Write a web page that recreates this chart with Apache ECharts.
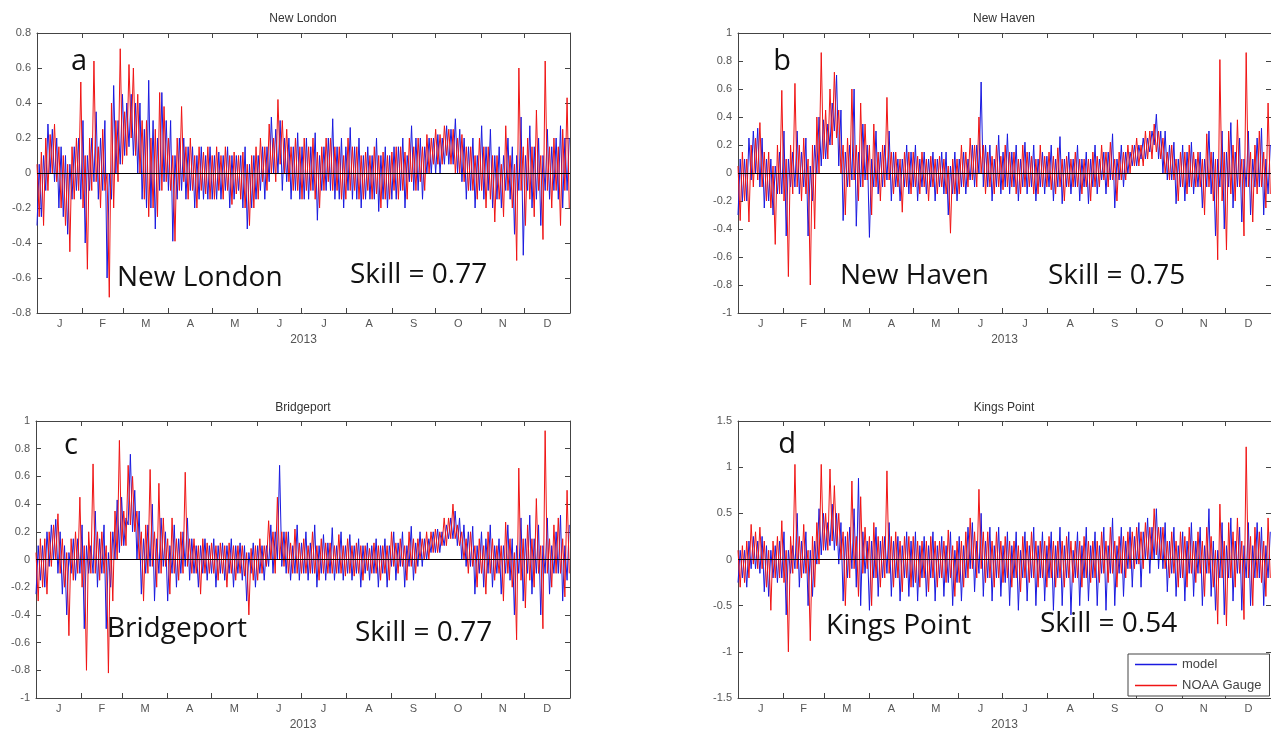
<!DOCTYPE html>
<html>
<head>
<meta charset="utf-8">
<title>Model vs NOAA gauge 2013</title>
<script src="https://cdn.jsdelivr.net/npm/echarts@6/dist/echarts.min.js"></script>
<style>
html, body { margin: 0; padding: 0; background: #fff; }
#main { width: 1271px; height: 732px; }
</style>
</head>
<body>
<div id="main"></div>
<script>
// one reading every 1.5 days from Jan 1 2013 (day 0), one line per month
var STEP = 1.5;
var monthLetters = ['J', 'F', 'M', 'A', 'M', 'J', 'J', 'A', 'S', 'O', 'N', 'D'];
var monthStarts = [31, 59, 90, 120, 151, 181, 212, 243, 273, 304, 334];
var monthMids = [15.5, 45, 74.5, 105, 135.5, 166, 196.5, 227.5, 258, 288.5, 319, 349.5];

var stations = ['New London', 'New Haven', 'Bridgeport', 'Kings Point'];
var panelLetters = ['a', 'b', 'c', 'd'];
var skills = ['Skill = 0.77', 'Skill = 0.75', 'Skill = 0.77', 'Skill = 0.54'];
var yMin = [-0.8, -1, -1, -1.5];
var yMax = [0.8, 1, 1, 1.5];
var yStep = [0.2, 0.2, 0.2, 0.5];

// New London
var newLondonModel = [
  -0.3,0.05, -0.25,0.1, -0.1,0.28, 0.0,0.25, -0.05,0.2, -0.2,0.15, -0.25,0.1, -0.35,0.05, -0.15,0.15, -0.1,0.2, -0.15,0.3,
  -0.4,0.1, -0.1,0.2, -0.05,0.35, -0.15,0.2, -0.1,0.3, -0.6,0.0, -0.15,0.5, 0.0,0.3, 0.05,0.45,
  0.1,0.4, 0.15,0.45, 0.1,0.4, 0.0,0.4, -0.15,0.25, -0.2,0.53, -0.2,0.3, -0.32,0.2, -0.1,0.46, -0.05,0.3,
  -0.1,0.3, -0.39,0.1, -0.15,0.2, -0.1,0.2, -0.15,0.15, -0.1,0.15, -0.2,0.1, -0.15,0.15, -0.15,0.1, -0.15,0.15,
  -0.15,0.1, -0.15,0.12, -0.15,0.1, -0.1,0.15, -0.2,0.1, -0.15,0.1, -0.1,0.1, -0.2,0.15, -0.32,0.05, -0.2,0.1, -0.15,0.1,
  -0.1,0.15, -0.15,0.15, -0.05,0.32, 0.0,0.25, 0.0,0.3, -0.1,0.2, -0.05,0.2, -0.15,0.15, -0.1,0.23, -0.15,0.15,
  -0.15,0.2, -0.15,0.15, -0.1,0.23, -0.27,0.1, -0.1,0.15, -0.1,0.2, -0.1,0.31, -0.15,0.15, -0.15,0.2, -0.2,0.15,
  -0.1,0.26, -0.15,0.15, -0.15,0.2, -0.2,0.1, -0.15,0.15, -0.15,0.1, -0.15,0.2, -0.22,0.1, -0.15,0.15, -0.2,0.1,
  -0.15,0.15, -0.15,0.15, -0.1,0.2, -0.2,0.1, -0.05,0.27, -0.1,0.2, -0.1,0.2, -0.15,0.15, 0.0,0.2, 0.0,0.2,
  0.0,0.22, 0.0,0.2, 0.05,0.27, 0.05,0.25, 0.05,0.31, 0.0,0.25, -0.05,0.2, -0.15,0.15, -0.1,0.2, -0.2,0.1, -0.1,0.27,
  -0.15,0.15, -0.1,0.25, -0.2,0.1, -0.15,0.15, -0.2,0.1, -0.1,0.2, -0.15,0.15, -0.35,0.1, -0.1,0.32, -0.47,0.1,
  -0.1,0.27, -0.2,0.15, -0.15,0.2, -0.3,0.1, -0.1,0.25, -0.15,0.15, -0.1,0.2, -0.15,0.27, -0.2,0.2, -0.1,0.2
];
var newLondonGauge = [
  0.05,-0.25, 0.12,-0.3, 0.2,-0.1, 0.22,0.0, 0.28,-0.05, 0.15,-0.2, 0.1,-0.3, 0.05,-0.45, 0.15,-0.15, 0.2,-0.1, 0.52,-0.2,
  0.1,-0.55, 0.2,-0.1, 0.64,-0.05, 0.15,-0.2, 0.25,-0.1, 0.0,-0.71, 0.4,-0.2, 0.3,-0.05, 0.71,0.05,
  0.35,0.1, 0.62,0.2, 0.6,0.1, 0.45,0.0, 0.3,-0.15, 0.3,-0.25, 0.2,-0.2, 0.25,-0.25, 0.46,-0.1, 0.38,-0.05,
  0.2,-0.1, 0.1,-0.39, 0.2,-0.1, 0.38,-0.05, 0.15,-0.15, 0.2,-0.1, 0.1,-0.2, 0.15,-0.1, 0.12,-0.12, 0.15,-0.15,
  0.1,-0.15, 0.15,-0.1, 0.1,-0.15, 0.15,-0.1, 0.1,-0.18, 0.12,-0.12, 0.1,-0.15, 0.12,-0.2, 0.05,-0.3, 0.1,-0.2, 0.15,-0.15,
  0.2,-0.05, 0.15,-0.1, 0.28,0.0, 0.2,-0.05, 0.42,0.05, 0.3,0.0, 0.25,-0.05, 0.15,-0.1, 0.2,-0.1, 0.15,-0.15,
  0.2,-0.1, 0.15,-0.1, 0.2,-0.15, 0.12,-0.2, 0.15,-0.1, 0.2,-0.05, 0.2,-0.1, 0.15,-0.1, 0.15,-0.15, 0.1,-0.15,
  0.2,-0.1, 0.15,-0.1, 0.15,-0.15, 0.1,-0.15, 0.12,-0.1, 0.1,-0.15, 0.15,-0.12, 0.1,-0.2, 0.12,-0.15, 0.1,-0.15,
  0.12,-0.1, 0.15,-0.15, 0.15,-0.1, 0.12,-0.15, 0.2,-0.05, 0.15,-0.1, 0.2,-0.05, 0.15,-0.1, 0.22,0.0, 0.2,0.05,
  0.25,0.05, 0.22,0.05, 0.27,0.1, 0.25,0.05, 0.25,0.0, 0.2,0.0, 0.22,-0.05, 0.15,-0.1, 0.15,-0.1, 0.1,-0.15, 0.2,-0.1,
  0.15,-0.2, 0.15,-0.15, 0.1,-0.28, 0.1,-0.15, 0.05,-0.25, 0.27,-0.1, 0.1,-0.2, 0.05,-0.5, 0.6,-0.1, 0.15,-0.3,
  0.2,-0.15, 0.15,-0.25, 0.36,-0.1, 0.1,-0.38, 0.64,-0.1, 0.15,-0.2, 0.2,-0.1, 0.15,-0.3, 0.25,-0.1, 0.43,-0.2
];

// New Haven
var newHavenModel = [
  -0.3,0.1, -0.2,0.1, -0.2,0.25, -0.05,0.3, 0.0,0.32, -0.1,0.25, -0.25,0.1, -0.2,0.1, -0.3,0.05, -0.15,0.15, -0.15,0.3,
  -0.45,0.1, -0.1,0.15, -0.1,0.3, -0.15,0.15, -0.1,0.25, -0.45,0.05, -0.2,0.2, 0.0,0.4, 0.05,0.38,
  0.1,0.35, 0.2,0.5, 0.3,0.7, 0.05,0.45, -0.34,0.15, -0.1,0.2, -0.05,0.6, -0.38,0.15, -0.1,0.35, -0.05,0.2,
  -0.46,0.1, -0.1,0.3, -0.15,0.15, -0.1,0.2, -0.05,0.3, -0.2,0.15, -0.1,0.1, -0.2,0.1, -0.1,0.2, -0.15,0.15,
  -0.1,0.2, -0.2,0.1, -0.1,0.15, -0.15,0.1, -0.1,0.15, -0.2,0.1, -0.1,0.15, -0.15,0.15, -0.3,0.05, -0.15,0.15, -0.2,0.1,
  -0.1,0.15, -0.15,0.1, -0.05,0.2, -0.1,0.2, 0.0,0.65, -0.1,0.2, -0.1,0.2, -0.2,0.1, -0.1,0.27, -0.15,0.15,
  -0.1,0.28, -0.15,0.15, -0.1,0.2, -0.2,0.1, -0.1,0.22, -0.15,0.15, -0.1,0.2, -0.2,0.1, -0.1,0.15, -0.15,0.12,
  -0.1,0.2, -0.2,0.1, -0.1,0.26, -0.22,0.1, -0.1,0.15, -0.15,0.1, -0.1,0.2, -0.2,0.1, -0.1,0.15, -0.22,0.1,
  -0.1,0.2, -0.15,0.1, -0.05,0.15, -0.15,0.15, -0.05,0.28, -0.25,0.1, -0.05,0.2, -0.1,0.15, 0.0,0.15, 0.05,0.2,
  0.05,0.2, 0.1,0.25, 0.1,0.25, 0.15,0.3, 0.2,0.42, 0.1,0.3, 0.0,0.3, -0.05,0.2, -0.05,0.22, -0.22,0.1, -0.1,0.2,
  -0.2,0.15, -0.1,0.22, -0.15,0.1, -0.1,0.15, -0.25,0.1, -0.1,0.3, -0.15,0.15, -0.45,0.1, -0.1,0.3, -0.4,0.15,
  -0.1,0.36, -0.25,0.15, -0.1,0.25, -0.35,0.1, -0.1,0.3, -0.3,0.1, -0.1,0.25, -0.1,0.32, -0.3,0.1, -0.15,0.2
];
var newHavenGauge = [
  0.05,-0.34, 0.15,-0.2, 0.1,-0.35, 0.2,-0.1, 0.25,-0.05, 0.36,-0.1, 0.15,-0.2, 0.15,-0.25, 0.05,-0.51, 0.2,-0.15, 0.59,-0.2,
  0.1,-0.74, 0.2,-0.15, 0.64,-0.1, 0.2,-0.2, 0.25,-0.15, 0.1,-0.8, 0.2,-0.4, 0.4,0.0, 0.86,0.1,
  0.45,0.1, 0.6,0.2, 0.72,0.25, 0.45,0.0, 0.2,-0.3, 0.25,-0.1, 0.6,-0.05, 0.2,-0.2, 0.5,-0.1, 0.35,-0.05,
  0.2,-0.3, 0.35,-0.1, 0.15,-0.2, 0.2,-0.1, 0.54,-0.05, 0.15,-0.15, 0.15,-0.1, 0.1,-0.28, 0.15,-0.1, 0.15,-0.15,
  0.15,-0.1, 0.12,-0.15, 0.15,-0.1, 0.1,-0.2, 0.12,-0.1, 0.1,-0.15, 0.12,-0.1, 0.1,-0.15, 0.05,-0.43, 0.1,-0.15, 0.1,-0.15,
  0.2,-0.1, 0.15,-0.1, 0.25,-0.05, 0.2,-0.1, 0.4,0.0, 0.2,-0.15, 0.15,-0.1, 0.12,-0.15, 0.2,-0.1, 0.12,-0.12,
  0.2,-0.1, 0.15,-0.1, 0.15,-0.15, 0.1,-0.15, 0.2,-0.1, 0.15,-0.1, 0.12,-0.15, 0.1,-0.15, 0.2,-0.1, 0.12,-0.1,
  0.15,-0.12, 0.12,-0.15, 0.18,-0.1, 0.1,-0.2, 0.12,-0.1, 0.1,-0.1, 0.15,-0.1, 0.1,-0.15, 0.1,-0.1, 0.1,-0.2,
  0.15,-0.1, 0.12,-0.1, 0.2,-0.05, 0.15,-0.1, 0.22,-0.05, 0.1,-0.2, 0.15,-0.05, 0.15,-0.05, 0.2,0.0, 0.2,0.05,
  0.25,0.05, 0.2,0.05, 0.3,0.1, 0.3,0.1, 0.35,0.15, 0.3,0.1, 0.25,0.0, 0.15,-0.05, 0.2,-0.05, 0.1,-0.2, 0.15,-0.1,
  0.15,-0.15, 0.2,-0.1, 0.15,-0.1, 0.15,-0.1, 0.1,-0.3, 0.28,-0.1, 0.15,-0.2, 0.1,-0.62, 0.81,-0.2, 0.15,-0.55,
  0.3,-0.15, 0.2,-0.2, 0.38,-0.1, 0.1,-0.45, 0.86,-0.1, 0.15,-0.35, 0.2,-0.15, 0.3,-0.1, 0.15,-0.25, 0.5,-0.15
];

// Bridgeport
var bridgeportModel = [
  -0.25,0.1, -0.15,0.1, -0.2,0.2, -0.05,0.25, 0.0,0.29, -0.1,0.2, -0.25,0.1, -0.4,0.05, -0.1,0.15, -0.15,0.15, -0.1,0.25,
  -0.5,0.1, -0.1,0.1, -0.1,0.35, -0.2,0.15, -0.1,0.25, -0.5,0.05, -0.2,0.2, 0.0,0.43, 0.05,0.45,
  0.1,0.3, 0.25,0.76, 0.2,0.5, 0.0,0.35, -0.25,0.15, -0.1,0.25, -0.05,0.4, -0.3,0.15, -0.1,0.3, -0.05,0.2,
  -0.3,0.1, -0.1,0.25, -0.2,0.15, -0.1,0.2, -0.05,0.3, -0.15,0.15, -0.1,0.1, -0.2,0.1, -0.1,0.15, -0.15,0.1,
  -0.1,0.15, -0.2,0.1, -0.1,0.12, -0.15,0.1, -0.1,0.15, -0.2,0.1, -0.1,0.12, -0.15,0.1, -0.3,0.05, -0.1,0.12, -0.2,0.1,
  -0.1,0.1, -0.15,0.1, -0.05,0.25, -0.1,0.2, 0.0,0.68, -0.05,0.2, -0.1,0.2, -0.15,0.1, -0.1,0.25, -0.15,0.12,
  -0.1,0.2, -0.15,0.12, -0.1,0.25, -0.2,0.1, -0.1,0.18, -0.15,0.12, -0.1,0.23, -0.15,0.1, -0.1,0.2, -0.15,0.1,
  -0.1,0.18, -0.15,0.1, -0.1,0.15, -0.2,0.1, -0.1,0.12, -0.15,0.1, -0.1,0.15, -0.2,0.1, -0.1,0.15, -0.2,0.1,
  -0.05,0.2, -0.15,0.12, -0.05,0.2, -0.2,0.1, -0.05,0.24, -0.15,0.12, -0.05,0.2, -0.05,0.15, 0.0,0.15, 0.05,0.2,
  0.05,0.22, 0.05,0.2, 0.1,0.25, 0.15,0.3, 0.15,0.35, 0.1,0.3, 0.0,0.25, -0.05,0.2, -0.05,0.24, -0.25,0.1, -0.1,0.2,
  -0.2,0.15, -0.1,0.25, -0.2,0.1, -0.1,0.15, -0.25,0.1, -0.1,0.25, -0.15,0.15, -0.4,0.1, -0.1,0.3, -0.3,0.15,
  -0.1,0.32, -0.25,0.15, -0.1,0.25, -0.4,0.1, -0.1,0.3, -0.25,0.1, -0.1,0.2, -0.1,0.32, -0.3,0.1, -0.15,0.25
];
var bridgeportGauge = [
  0.05,-0.3, 0.15,-0.2, 0.15,-0.25, 0.2,-0.05, 0.25,0.0, 0.33,-0.1, 0.15,-0.2, 0.05,-0.55, 0.15,-0.15, 0.2,-0.1, 0.45,-0.2,
  0.1,-0.8, 0.2,-0.1, 0.69,-0.1, 0.2,-0.15, 0.2,-0.1, 0.1,-0.82, 0.2,-0.3, 0.35,0.0, 0.86,0.1,
  0.35,0.1, 0.68,0.25, 0.6,0.2, 0.35,0.0, 0.2,-0.3, 0.25,-0.1, 0.65,-0.05, 0.2,-0.2, 0.55,-0.1, 0.3,-0.05,
  0.15,-0.25, 0.3,-0.1, 0.15,-0.15, 0.2,-0.1, 0.63,-0.05, 0.15,-0.1, 0.15,-0.1, 0.1,-0.25, 0.15,-0.1, 0.12,-0.1,
  0.12,-0.1, 0.1,-0.15, 0.12,-0.1, 0.1,-0.2, 0.12,-0.1, 0.1,-0.15, 0.1,-0.1, 0.1,-0.12, 0.05,-0.4, 0.08,-0.15, 0.1,-0.15,
  0.15,-0.1, 0.1,-0.05, 0.28,0.0, 0.2,-0.1, 0.45,0.0, 0.2,-0.05, 0.2,-0.1, 0.12,-0.1, 0.22,-0.1, 0.12,-0.1,
  0.15,-0.1, 0.1,-0.1, 0.2,-0.1, 0.1,-0.15, 0.15,-0.1, 0.12,-0.1, 0.12,-0.1, 0.1,-0.1, 0.18,-0.1, 0.1,-0.12,
  0.15,-0.1, 0.1,-0.12, 0.12,-0.1, 0.1,-0.15, 0.1,-0.08, 0.08,-0.1, 0.12,-0.1, 0.1,-0.15, 0.1,-0.1, 0.1,-0.15,
  0.2,-0.05, 0.12,-0.1, 0.15,-0.05, 0.1,-0.15, 0.2,-0.05, 0.15,-0.1, 0.15,0.0, 0.15,0.0, 0.2,0.0, 0.2,0.05,
  0.22,0.05, 0.2,0.1, 0.3,0.1, 0.3,0.15, 0.4,0.15, 0.25,0.1, 0.2,0.0, 0.15,-0.1, 0.2,-0.05, 0.1,-0.2, 0.15,-0.1,
  0.1,-0.25, 0.2,-0.1, 0.15,-0.15, 0.1,-0.1, 0.1,-0.3, 0.27,-0.1, 0.15,-0.2, 0.05,-0.58, 0.66,-0.15, 0.15,-0.35,
  0.25,-0.15, 0.15,-0.2, 0.44,-0.1, 0.1,-0.5, 0.93,-0.1, 0.15,-0.2, 0.25,-0.1, 0.3,-0.1, 0.15,-0.27, 0.5,-0.1
];

// Kings Point
var kingsPointModel = [
  -0.25,0.1, -0.2,0.1, -0.3,0.2, -0.1,0.25, -0.1,0.2, -0.15,0.25, -0.35,0.15, -0.4,0.1, -0.2,0.15, -0.25,0.2, -0.2,0.3,
  -0.6,0.1, -0.15,0.15, -0.1,0.5, -0.3,0.2, -0.15,0.3, -0.5,0.1, -0.4,0.2, -0.05,0.55, 0.05,0.5,
  0.1,0.4, 0.15,0.6, 0.1,0.5, -0.05,0.4, -0.45,0.25, -0.2,0.35, -0.1,0.55, -0.3,0.88, -0.5,0.3, -0.15,0.2,
  -0.55,0.2, -0.2,0.35, -0.4,0.2, -0.2,0.25, -0.15,0.4, -0.4,0.2, -0.2,0.25, -0.45,0.15, -0.2,0.3, -0.4,0.2,
  -0.3,0.3, -0.45,0.15, -0.2,0.25, -0.4,0.15, -0.2,0.3, -0.45,0.15, -0.2,0.25, -0.4,0.15, -0.25,0.3, -0.5,0.1, -0.25,0.25,
  -0.45,0.15, -0.2,0.35, -0.1,0.4, -0.35,0.2, -0.15,0.5, -0.4,0.2, -0.2,0.35, -0.45,0.15, -0.2,0.35, -0.4,0.15,
  -0.25,0.3, -0.5,0.15, -0.2,0.3, -0.55,0.1, -0.2,0.3, -0.45,0.15, -0.2,0.35, -0.5,0.15, -0.2,0.3, -0.45,0.15,
  -0.2,0.3, -0.55,0.15, -0.2,0.35, -0.5,0.15, -0.2,0.3, -0.6,0.1, -0.2,0.3, -0.5,0.15, -0.2,0.35, -0.45,0.15,
  -0.2,0.3, -0.5,0.15, -0.15,0.35, -0.55,0.15, -0.15,0.45, -0.5,0.15, -0.15,0.35, -0.4,0.2, -0.1,0.35, -0.3,0.25,
  -0.05,0.4, -0.3,0.3, 0.0,0.45, -0.15,0.35, 0.0,0.55, -0.1,0.35, -0.1,0.4, -0.35,0.2, -0.15,0.35, -0.4,0.15, -0.2,0.3,
  -0.45,0.2, -0.15,0.4, -0.4,0.2, -0.15,0.35, -0.5,0.15, -0.15,0.55, -0.4,0.2, -0.55,0.1, -0.2,0.4, -0.6,0.15,
  -0.2,0.45, -0.45,0.2, -0.15,0.35, -0.55,0.15, -0.2,0.4, -0.5,0.15, -0.2,0.4, -0.2,0.35, -0.5,0.15, -0.2,0.3
];
var kingsPointGauge = [
  0.1,-0.3, 0.15,-0.25, 0.2,-0.2, 0.38,-0.05, 0.3,-0.1, 0.35,-0.1, 0.2,-0.3, 0.1,-0.55, 0.2,-0.2, 0.25,-0.2, 0.42,-0.25,
  0.1,-1.0, 0.25,-0.15, 1.03,-0.1, 0.25,-0.2, 0.38,-0.15, 0.1,-0.88, 0.25,-0.3, 0.4,-0.05, 1.03,0.1,
  0.5,0.1, 0.98,0.2, 0.8,0.15, 0.5,0.0, 0.3,-0.5, 0.3,-0.2, 0.85,-0.1, 0.25,-0.4, 0.68,-0.15, 0.35,-0.1,
  0.25,-0.5, 0.4,-0.2, 0.25,-0.3, 0.25,-0.2, 0.96,-0.15, 0.25,-0.3, 0.3,-0.2, 0.2,-0.35, 0.25,-0.2, 0.25,-0.3,
  0.25,-0.25, 0.2,-0.3, 0.2,-0.2, 0.2,-0.35, 0.25,-0.2, 0.2,-0.3, 0.2,-0.2, 0.2,-0.25, 0.32,-0.2, 0.15,-0.4, 0.2,-0.25,
  0.2,-0.3, 0.3,-0.2, 0.45,-0.1, 0.3,-0.2, 0.76,-0.1, 0.3,-0.25, 0.3,-0.2, 0.2,-0.3, 0.3,-0.2, 0.2,-0.25,
  0.25,-0.2, 0.2,-0.3, 0.2,-0.2, 0.15,-0.35, 0.25,-0.2, 0.2,-0.25, 0.3,-0.2, 0.2,-0.3, 0.2,-0.2, 0.2,-0.3,
  0.25,-0.2, 0.2,-0.3, 0.2,-0.2, 0.2,-0.3, 0.25,-0.2, 0.2,-0.25, 0.2,-0.2, 0.2,-0.3, 0.25,-0.2, 0.2,-0.25,
  0.2,-0.2, 0.2,-0.25, 0.3,-0.15, 0.2,-0.25, 0.35,-0.15, 0.2,-0.3, 0.25,-0.15, 0.25,-0.2, 0.3,-0.1, 0.3,-0.1,
  0.35,-0.05, 0.3,-0.1, 0.4,0.0, 0.35,0.0, 0.55,0.05, 0.35,0.0, 0.35,-0.1, 0.2,-0.2, 0.3,-0.15, 0.2,-0.3, 0.3,-0.2,
  0.25,-0.3, 0.35,-0.15, 0.2,-0.25, 0.3,-0.15, 0.2,-0.4, 0.35,-0.15, 0.25,-0.3, 0.1,-0.7, 0.6,-0.2, 0.2,-0.72,
  0.4,-0.2, 0.3,-0.3, 0.45,-0.15, 0.2,-0.65, 1.22,-0.2, 0.25,-0.5, 0.35,-0.2, 0.3,-0.25, 0.2,-0.4, 0.45,-0.2
];

var modelSeries = [newLondonModel, newHavenModel, bridgeportModel, kingsPointModel];
var gaugeSeries = [newLondonGauge, newHavenGauge, bridgeportGauge, kingsPointGauge];

var grids = [
  { left: 37, top: 33, width: 533, height: 280 },
  { left: 738, top: 33, width: 533, height: 280 },
  { left: 36, top: 421, width: 534, height: 279 },
  { left: 738, top: 421, width: 533, height: 279 }
];

var axisColor = '#444';
var labelColor = '#555';
var tickFont = 'Liberation Sans';

function toPoints(vals) {
  return vals.map(function (v, k) { return [k * STEP, v]; });
}

var xAxes = [], yAxes = [], series = [], graphics = [];

for (var i = 0; i < 4; i++) {
  // bottom axis, month letters between the month ticks
  xAxes.push({
    gridIndex: i, type: 'value', min: 0, max: 365, position: 'bottom',
    axisLine: { show: true, onZero: false, lineStyle: { color: axisColor, width: 1 } },
    axisTick: { show: true, inside: true, length: 5, customValues: monthStarts, lineStyle: { color: axisColor } },
    axisLabel: {
      customValues: monthMids, color: labelColor, fontSize: 11, fontFamily: tickFont, margin: 5,
      formatter: function (v) { return monthLetters[monthMids.indexOf(v)]; }
    },
    splitLine: { show: false },
    name: '2013', nameLocation: 'middle', nameGap: 21,
    nameTextStyle: { color: labelColor, fontSize: 12, fontFamily: tickFont }
  });
}
for (var i = 0; i < 4; i++) {
  // top edge of the box
  xAxes.push({
    gridIndex: i, type: 'value', min: 0, max: 365, position: 'top',
    axisLine: { show: true, onZero: false, lineStyle: { color: axisColor, width: 1 } },
    axisTick: { show: true, inside: true, length: 5, customValues: monthStarts, lineStyle: { color: axisColor } },
    axisLabel: { show: false },
    splitLine: { show: false }
  });
}
for (var i = 0; i < 4; i++) {
  yAxes.push({
    gridIndex: i, type: 'value', min: yMin[i], max: yMax[i], interval: yStep[i], position: 'left',
    axisLine: { show: true, onZero: false, lineStyle: { color: axisColor, width: 1 } },
    axisTick: { show: true, inside: true, length: 5, lineStyle: { color: axisColor } },
    axisLabel: {
      color: labelColor, fontSize: 11, fontFamily: tickFont, margin: 6,
      formatter: function (v) { return String(+v.toFixed(1)); }
    },
    splitLine: { show: false }
  });
}
for (var i = 0; i < 4; i++) {
  yAxes.push({
    gridIndex: i, type: 'value', min: yMin[i], max: yMax[i], interval: yStep[i], position: 'right',
    axisLine: { show: true, onZero: false, lineStyle: { color: axisColor, width: 1 } },
    axisTick: { show: true, inside: true, length: 5, lineStyle: { color: axisColor } },
    axisLabel: { show: false },
    splitLine: { show: false }
  });
}

for (var i = 0; i < 4; i++) {
  series.push({
    name: 'model', type: 'line', xAxisIndex: i, yAxisIndex: i,
    data: toPoints(modelSeries[i]), symbol: 'none',
    lineStyle: { color: '#1a1ae0', width: 1 }, itemStyle: { color: '#1a1ae0' }
  });
  series.push({
    name: 'NOAA Gauge', type: 'line', xAxisIndex: i, yAxisIndex: i,
    data: toPoints(gaugeSeries[i]), symbol: 'none',
    lineStyle: { color: '#f01414', width: 1 }, itemStyle: { color: '#f01414' },
    markLine: {
      silent: true, symbol: 'none', label: { show: false },
      lineStyle: { color: '#000', width: 1, type: 'solid' },
      data: [{ yAxis: 0 }]
    }
  });
}

// text drawn on the figure
var titlePos = [[303, 19], [1004, 19], [303, 408], [1004, 408]];
var letterPos = [[79, 62], [782, 62], [71, 446], [787, 445]];
var stationPos = [[117, 278], [840, 276], [107, 629], [826, 626]];
var skillPos = [[350, 275], [1048, 276], [355, 633], [1040, 624]];

function addText(txt, x, y, font, align, color) {
  graphics.push({
    type: 'text', x: x, y: y, z: 100,
    style: {
      text: txt, font: font, fill: color,
      textAlign: align, textVerticalAlign: 'middle',
      align: align, verticalAlign: 'middle'
    }
  });
}

for (var i = 0; i < 4; i++) {
  addText(stations[i], titlePos[i][0], titlePos[i][1], '12px "Liberation Sans"', 'center', '#333');
  addText(panelLetters[i], letterPos[i][0], letterPos[i][1], '29px "Open Sans"', 'center', '#111');
  addText(stations[i], stationPos[i][0], stationPos[i][1], '28px "Open Sans"', 'left', '#111');
  addText(skills[i], skillPos[i][0], skillPos[i][1], '28px "Open Sans"', 'left', '#111');
}

var myChart = echarts.init(document.getElementById('main'));
myChart.setOption({
  animation: false,
  backgroundColor: '#fff',
  grid: grids,
  xAxis: xAxes,
  yAxis: yAxes,
  legend: {
    data: ['model', 'NOAA Gauge'],
    left: 1128, top: 654, orient: 'vertical',
    icon: 'rect', itemWidth: 42, itemHeight: 1.5, itemGap: 8,
    padding: [4, 8, 4, 7],
    backgroundColor: '#fff', borderColor: '#444', borderWidth: 1, borderRadius: 0,
    textStyle: { color: '#444', fontSize: 13, fontFamily: tickFont },
    selectedMode: false
  },
  series: series,
  graphic: graphics
});
window.addEventListener('resize', function () { myChart.resize(); });
</script>
</body>
</html>
